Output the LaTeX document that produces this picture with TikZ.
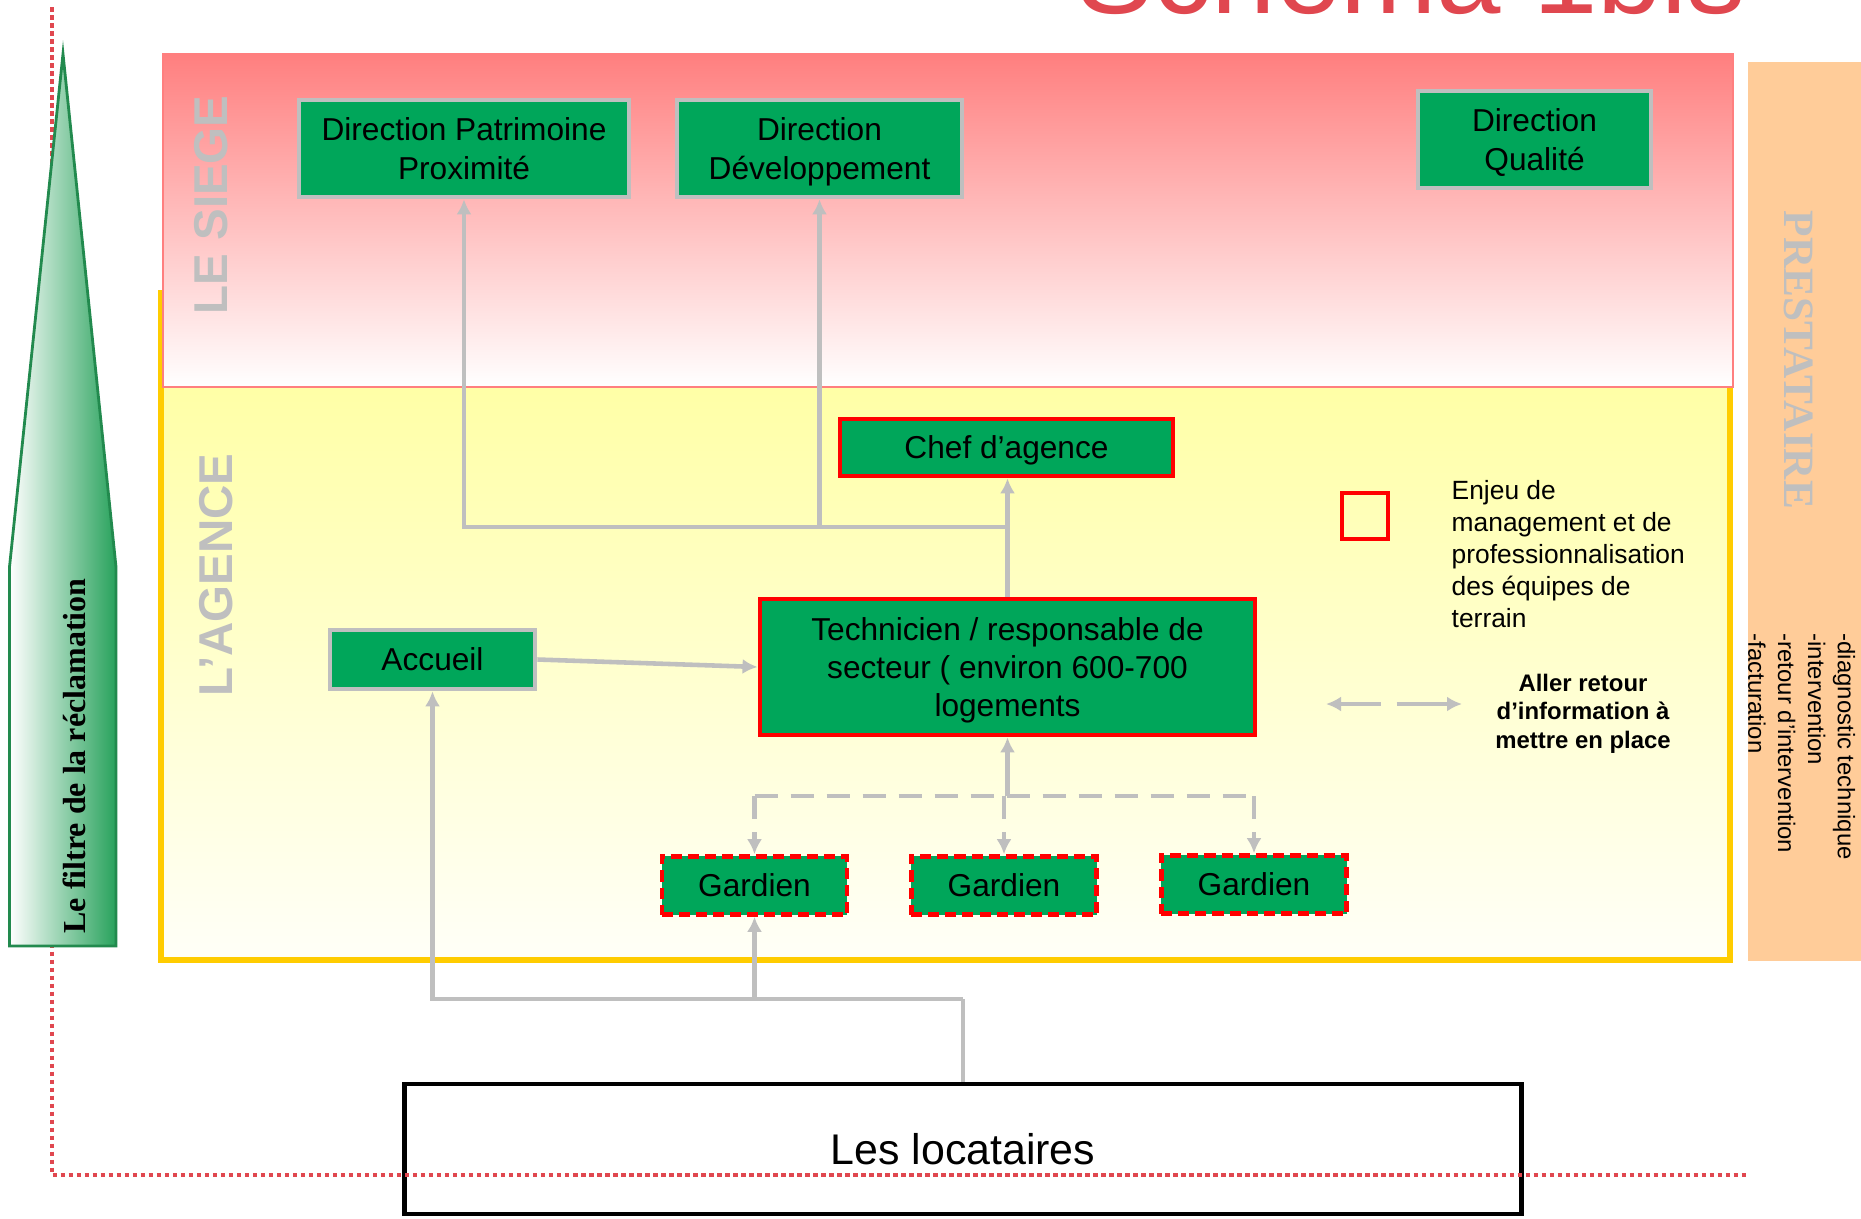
\documentclass[tikz,border=0pt]{standalone}
\usepackage{fontspec}
\setmainfont{Liberation Sans}
\newfontfamily\titreserif{Liberation Serif}
\usepackage{tikz}
\usetikzlibrary{arrows.meta}
\usetikzlibrary{positioning}

\definecolor{vertbox}{RGB}{0,166,90}
\definecolor{grisfl}{RGB}{191,191,191}
\definecolor{rosesiege}{RGB}{255,127,127}
\definecolor{jauneag}{RGB}{255,255,153}
\definecolor{blancag}{RGB}{255,255,248}
\definecolor{orprest}{RGB}{255,204,153}
\definecolor{orbord}{RGB}{255,204,0}
\definecolor{rougetitre}{RGB}{224,71,79}
\definecolor{vertfiltre}{RGB}{40,162,92}

\tikzset{
  boite/.style={fill=vertbox, line width=1.3pt, align=center, inner sep=0pt,
    text depth=0pt, font=\fontsize{9}{10.9}\selectfont},
  boitegris/.style={boite, draw=grisfl},
  boiterouge/.style={boite, draw=red},
  gardien/.style={boite, draw=red, dash pattern=on 0.11cm off 0.06cm,
    minimum width=1.85cm, minimum height=0.58cm},
  trait/.style={draw=grisfl, line width=1.3pt},
  fleche/.style={trait, -{Latex[length=0.15cm,width=0.15cm]}},
  tirets/.style={trait, dash pattern=on 0.23cm off 0.13cm},
  tiretfleche/.style={tirets, -{Latex[length=0.15cm,width=0.15cm]}},
  zonetxt/.style={text=grisfl, font=\bfseries\fontsize{13.5}{14}\selectfont},
}

\begin{document}
\begin{tikzpicture}[x=0.01cm,y=-0.01cm]
            \useasboundingbox (0,0) rectangle (1861,1218);
            \clip (0,0) rectangle (1861,1218);

            % titre coupe en haut
            \node[anchor=base west, inner sep=0, text=rougetitre,
              font=\fontsize{32.9}{36}\selectfont] (titre) at (1076,14) {Schéma 1bis};

            % les zones
            \shade[top color=jauneag, bottom color=blancag] (161,293) rectangle (1730,960);
            \draw[orbord, line width=1.6pt] (161,293) rectangle (1730,960);
            \shade[top color=rosesiege, bottom color=white] (163,54) rectangle (1733,387);
            \draw[rosesiege, line width=0.8pt] (163,54) rectangle (1733,387);
            \fill[orprest] (1748,62) rectangle (1861,961);

            \node[rotate=90, zonetxt] (siege) at (211,205) {LE SIEGE};
            \node[rotate=90, zonetxt] (agence) at (216,575) {L’AGENCE};
            \node[rotate=-90, text=grisfl,
              font=\titreserif\bfseries\fontsize{12.3}{13}\selectfont] (presta) at (1799,360) {PRESTATAIRE};
            \node[rotate=-90, anchor=north west, inner sep=0, align=left,
              font=\fontsize{6.8}{8.5}\selectfont] (taches) at (1856,633)
              {-diagnostic technique\\-intervention\\-retour d’intervention\\-facturation};

            % les boites
            \node[boitegris, minimum width=3.30cm, minimum height=0.97cm] (dirpat) at (464,148.5) {Direction Patrimoine\\Proximité};
            \node[boitegris, minimum width=2.85cm, minimum height=0.97cm] (dirdev) at (819.5,148.5) {Direction\\Développement};
            \node[boitegris, minimum width=2.33cm, minimum height=0.97cm] (dirqual) at (1534.5,139.5) {Direction\\Qualité};
            \node[boiterouge, minimum width=3.33cm, minimum height=0.57cm] (chef) at (1006.5,447.5) {Chef d’agence};
            \node[boiterouge, minimum width=4.95cm, minimum height=1.36cm] (tech) at (1007.5,667) {Technicien / responsable de\\secteur ( environ 600-700\\logements};
            \node[boitegris, minimum width=2.05cm, minimum height=0.59cm] (accueil) at (432.5,659.5) {Accueil};
            \node[gardien] (g1) at (754.5,885.5) {Gardien};
            \node[gardien] (g2) at (1004,885.5) {Gardien};
            \node[gardien] (g3) at (1254,884.5) {Gardien};
            \node[draw=black, fill=white, line width=1.3pt, minimum width=11.16cm, minimum height=1.30cm,
              inner sep=0, font=\fontsize{12.2}{14}\selectfont] (loc) at (963,1149) {Les locataires};

            % legende
            \node[draw=red, line width=1.3pt, minimum size=0.46cm, inner sep=0] (carre) at (1365,516) {};
            \node[anchor=north west, inner sep=0, align=left,
              font=\fontsize{7.5}{9.1}\selectfont] (enjeu) at (1451,480)
              {Enjeu de\\management et de\\professionnalisation\\des équipes de\\terrain};
            \coordinate (lg1) at (1326,704);
            \coordinate (lg2) at (1462,704);
            \draw[trait, dash pattern=on 0.41cm off 0.16cm on 0.5cm off 0.1cm,
              {Latex[length=0.15cm,width=0.15cm]}-{Latex[length=0.15cm,width=0.15cm]}] (lg1) -- (lg2);
            \node[anchor=north, inner sep=0, align=center,
              font=\bfseries\fontsize{6.8}{8.1}\selectfont] (aller) at (1583,673)
              {Aller retour\\d’information à\\mettre en place};

            % liaisons vers le haut
            \coordinate (jhaut) at (1007.5,527);
            \draw[fleche] (tech.north) -- (tech.north |- chef.south);
            \draw[fleche] (jhaut) -| (dirpat.south);
            \draw[fleche] (dirdev.south |- jhaut) -- (dirdev.south);
            \draw[fleche] (accueil.east) -- (tech.west);

            % depuis les locataires
            \coordinate (jbas) at (963,999);
            \draw[trait] (loc.north) -- (jbas);
            \draw[fleche] (jbas) -| (accueil.south);
            \draw[fleche] (g1.south |- jbas) -- (g1.south);

            % gardiens
            \coordinate (jgard) at (1007.5,796);
            \draw[fleche] (jgard) -- (tech.south);
            \draw[tirets] (g1.north |- jgard) -- (g3.north |- jgard);
            \draw[tiretfleche] (g1.north |- jgard) -- (g1.north);
            \draw[tiretfleche] (g2.north |- jgard) -- (g2.north);
            \draw[tiretfleche] (g3.north |- jgard) -- (g3.north);

            % pointilles rouges
            \coordinate (pa) at (52,7);
            \coordinate (pb) at (52,1175);
            \coordinate (pc) at (1748,1175);
            \draw[rougetitre, line width=1.2pt, dash pattern=on 0.045cm off 0.035cm] (pa) -- (pb) -- (pc);

            % le filtre
            \shadedraw[left color=white, right color=vertfiltre, draw=vertfiltre!85!black, line width=0.8pt]
              (63,54) -- (116,567) -- (116,946) -- (9.5,946) -- (9.5,567) -- cycle;
            \node[rotate=90, font=\titreserif\bfseries\fontsize{9.1}{10}\selectfont] (filtre) at (74,756) {Le filtre de la réclamation};
        \end{tikzpicture}
\end{document}
